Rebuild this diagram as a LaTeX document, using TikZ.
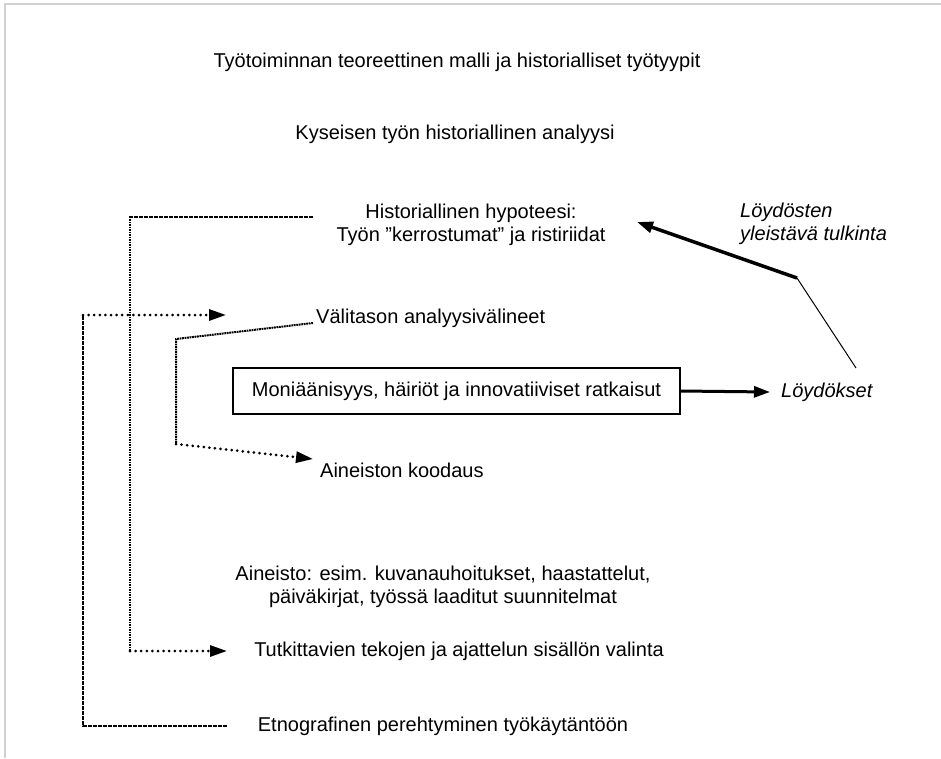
\documentclass[tikz,border=0pt]{standalone}
\usepackage{fontspec}
\setmainfont{Liberation Sans}
\usetikzlibrary{arrows.meta}
\begin{document}
\begin{tikzpicture}[x=1pt,y=-1pt,
  lbl/.style={inner sep=0pt,align=center,font=\fontsize{20}{23}\selectfont},
  itlbl/.style={lbl,align=left,font=\fontsize{20}{23}\selectfont\itshape},
  frameline/.style={draw=black!18,line width=2pt},
  densedot/.style={line width=2pt,dash pattern=on 1.8pt off 0.7pt},
  rounddot/.style={line width=3pt,line cap=round,dash pattern=on 0pt off 5.6pt,
    -{Triangle[length=17pt,width=11pt,line cap=butt]}},
  boldarrow/.style={line width=3pt,-{Triangle[length=16pt,width=11pt]}},
  thinline/.style={line width=1pt}]
\useasboundingbox (0,0) rectangle (941,758);
% page frame
\draw[frameline] (5,758) -- (5,4) -- (941,4);

% text levels
\node[lbl] (teoria) at (457,62) {Työtoiminnan teoreettinen malli ja historialliset työtyypit};
\node[lbl] (analyysi) at (455,134) {Kyseisen työn historiallinen analyysi};
\node[lbl] (hyp) at (471,225) {Historiallinen hypoteesi:\\Työn ”kerrostumat” ja ristiriidat};
\node[lbl,anchor=west] (valineet) at (316,318) {Välitason analyysivälineet};
\node[lbl,draw,line width=1.2pt,minimum width=447pt,minimum height=46pt] (moni) at (456.5,391)
  {Moniäänisyys, häiriöt ja innovatiiviset ratkaisut};
\node[itlbl,anchor=west] (loyd) at (781,392) {Löydökset};
\node[itlbl,anchor=west] (tulk) at (740,224) {Löydösten\\yleistävä tulkinta};
\node[lbl,anchor=west] (koodaus) at (320,470) {Aineiston koodaus};
\node[lbl] (aineisto) at (443,587) {Aineisto: esim. kuvanauhoitukset, haastattelut,\\päiväkirjat, työssä laaditut suunnitelmat};
\node[lbl] (valinta) at (459,651) {Tutkittavien tekojen ja ajattelun sisällön valinta};
\node[lbl] (etno) at (443,726) {Etnografinen perehtyminen työkäytäntöön};

% connector end points and corners
\coordinate (hypOut) at (313,217);
\coordinate (hypCorner) at (130,217);
\coordinate (valintaCorner) at (130,651);
\coordinate (valintaIn) at (227,651);
\coordinate (etnoOut) at (227,726);
\coordinate (etnoCorner) at (83,726);
\coordinate (valCorner) at (83,315);
\coordinate (valIn) at (226,315);
\coordinate (valOut) at (313,323);
\coordinate (valBend) at (176,339);
\coordinate (kooCorner) at (176,444);
\coordinate (kooIn) at (313,459);
\coordinate (elbow) at (797,278);
\coordinate (loydTop) at (856,368);
\coordinate (hypIn) at (637,222);

% hypothesis -> selection of acts
\draw[densedot] (hypOut) -- (hypCorner) -- (valintaCorner);
\draw[rounddot] (valintaCorner) -- (valintaIn);
% ethnography -> intermediate tools
\draw[densedot] (etnoOut) -- (etnoCorner) -- (valCorner);
\draw[rounddot] (valCorner) -- (valIn);
% intermediate tools -> coding
\draw[densedot] (valOut) -- (valBend) -- (kooCorner);
\draw[rounddot] (kooCorner) -- (kooIn);

% findings
\draw[boldarrow] (moni.east) -- ([xshift=-11pt]loyd.west);
\draw[thinline] (loydTop) -- (elbow);
\draw[boldarrow,line width=3.5pt] (elbow) -- (hypIn);
\end{tikzpicture}
\end{document}
